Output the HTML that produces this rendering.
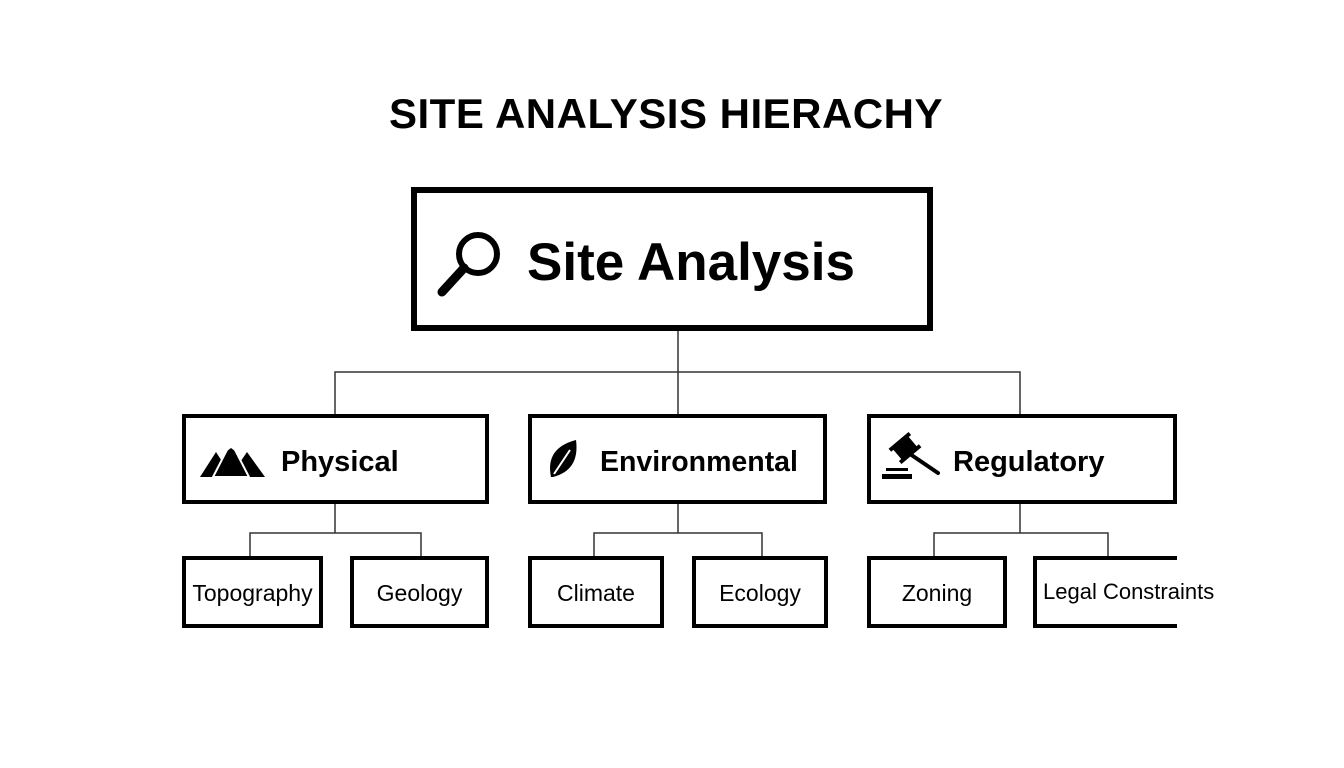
<!DOCTYPE html>
<html><head><meta charset="utf-8"><style>
body{margin:0;width:1344px;height:768px;background:#fff;position:relative;overflow:hidden;font-family:"Liberation Sans",sans-serif;color:#000}
.b{position:absolute;box-sizing:border-box;border:4px solid #000;display:flex;align-items:center;justify-content:center;padding-top:3px}
.t{position:absolute;font-weight:bold}
.s{font-size:23px}
</style></head><body>
<div class="t" style="left:0;width:1332px;top:90px;text-align:center;font-size:42px;letter-spacing:0.5px">SITE ANALYSIS HIERACHY</div>
<svg style="position:absolute;left:0;top:0" width="1344" height="768">
<g stroke="#333" stroke-width="1.5" fill="none">
<path d="M678 330V372M335 415V372H1020V415M678 372V415"/>
<path d="M335 503V533M250 556V533H421V556"/>
<path d="M678 503V533M594 556V533H762V556"/>
<path d="M1020 503V533M934 556V533H1108V556"/>
</g>
<circle cx="478" cy="254" r="19" stroke="#000" stroke-width="6" fill="none"/>
<line x1="464" y1="268" x2="442" y2="292" stroke="#000" stroke-width="9" stroke-linecap="round"/>
<polygon points="200,477 216,452 232,477" fill="#000"/>
<polygon points="230,477 247,452 265,477" fill="#000"/>
<polygon points="213,477 231,442 249,477" fill="#000" stroke="#fff" stroke-width="2" stroke-linejoin="miter"/>
<polygon points="227,451 231,443 235,451 231,448" fill="#fff"/>
<path d="M551 477 Q545 448 576 440 Q580 470 553 477Z" fill="#000"/>
<path d="M554 474 L570 450" stroke="#fff" stroke-width="2"/>
<g transform="translate(905,448) rotate(-40)"><rect x="-10" y="-7" width="20" height="14" fill="#000"/><rect x="-13" y="-10" width="26" height="4" fill="#000"/><rect x="-13" y="6" width="26" height="4" fill="#000"/></g>
<line x1="910" y1="454" x2="938" y2="473" stroke="#000" stroke-width="4" stroke-linecap="round"/>
<rect x="882" y="474" width="30" height="5" fill="#000"/><rect x="886" y="468" width="22" height="3" fill="#000"/>
</svg>
<div class="b" style="left:411px;top:187px;width:522px;height:144px;border-width:6px"></div>
<div class="t" style="left:527px;top:232px;font-size:53px">Site Analysis</div>
<div class="b" style="left:182px;top:414px;width:307px;height:90px"></div>
<div class="t" style="left:281px;top:446px;font-size:29px">Physical</div>
<div class="b" style="left:528px;top:414px;width:299px;height:90px"></div>
<div class="t" style="left:600px;top:446px;font-size:28.5px">Environmental</div>
<div class="b" style="left:867px;top:414px;width:310px;height:90px"></div>
<div class="t" style="left:953px;top:446px;font-size:29px">Regulatory</div>
<div class="b s" style="left:182px;top:556px;width:141px;height:72px;white-space:nowrap">Topography</div>
<div class="b s" style="left:350px;top:556px;width:139px;height:72px">Geology</div>
<div class="b s" style="left:528px;top:556px;width:136px;height:72px">Climate</div>
<div class="b s" style="left:692px;top:556px;width:136px;height:72px">Ecology</div>
<div class="b s" style="left:867px;top:556px;width:140px;height:72px">Zoning</div>
<div class="b" style="left:1033px;top:556px;width:144px;height:72px;border-right:none;justify-content:flex-start;padding-left:6px;padding-top:0;white-space:nowrap;overflow:visible;font-size:22px">Legal Constraints</div>
</body></html>
